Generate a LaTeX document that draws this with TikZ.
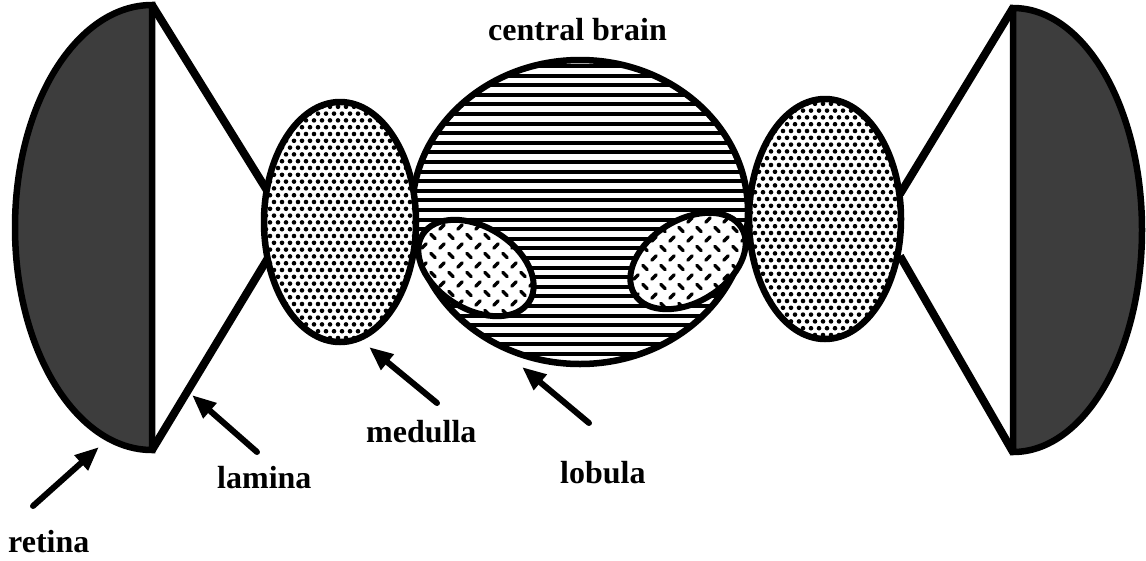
\documentclass[tikz,border=0pt]{standalone}
\usepackage{fontspec}
\setmainfont{Liberation Serif}
\usetikzlibrary{arrows.meta}
\begin{document}
\begin{tikzpicture}[x=1pt,y=-1pt,
  outl/.style={line width=6.5pt},
  lamline/.style={line width=8pt,line join=miter},
  pointer/.style={line width=6pt,line cap=round,-{Triangle[length=24pt,width=19pt]}},
  lbl/.style={font=\fontsize{32}{36}\selectfont\bfseries,inner sep=0pt,anchor=base west}]
\useasboundingbox[fill=white] (0,0) rectangle (1146,560);

% central brain: horizontal hatching
\begin{scope}
  \clip (580,212) ellipse[x radius=168pt,y radius=152pt];
  \foreach \k in {0,...,32} \draw[line width=4pt] (400,{66+\k*9.6}) -- (760,{66+\k*9.6});
\end{scope}
\draw[outl] (580,212) ellipse[x radius=168pt,y radius=152pt];

% retinas
\draw[outl,fill=black!76] (152,5) arc[start angle=90,end angle=270,x radius=137pt,y radius=222.5pt] -- cycle;
\draw[outl,fill=black!76] (1013,8) arc[start angle=90,end angle=-90,x radius=129pt,y radius=222pt] -- cycle;

% laminas
\draw[lamline] (268,192) -- (152,5);
\draw[lamline] (152,450) -- (268,258);
\draw[lamline] (900,194) -- (1013,8);
\draw[lamline] (1013,452) -- (900,256);

% medullas
\foreach \cx/\cy in {340/222,825/219}{
  \begin{scope}
    \clip (\cx,\cy) ellipse[x radius=76pt,y radius=120pt];
    \fill[white] ({\cx-80},{\cy-125}) rectangle ({\cx+80},{\cy+125});
    \foreach \r in {0,...,36}{
      \foreach \c in {0,...,20}{
        \fill ({\cx-78+mod(\r,2)*4+\c*8},{\cy-122+\r*6.8}) circle[radius=2.3pt];
      }
    }
  \end{scope}
  \draw[outl] (\cx,\cy) ellipse[x radius=76pt,y radius=120pt];
}

% lobulas
\foreach \cx/\cy/\rot in {476/268/-32,688/261/32}{
  \begin{scope}
    \clip[rotate around={\rot:(\cx,\cy)}] (\cx,\cy) ellipse[x radius=63pt,y radius=41pt];
    \fill[white] ({\cx-70},{\cy-60}) rectangle ({\cx+70},{\cy+60});
    \foreach \j in {0,...,13}{
      \pgfmathsetmacro\ang{mod(\j,2)==0 ? 45 : -45}
      \pgfmathsetmacro\off{mod(\j,2)*9}
      \foreach \i in {0,...,8}{
        \draw[line width=3.4pt,line cap=round] ({\cx-70+\off+\i*18},{\cy-60+\j*9.5}) ++(\ang:3pt) -- ++(\ang+180:6pt);
      }
    }
  \end{scope}
  \draw[line width=6pt,rotate around={\rot:(\cx,\cy)}] (\cx,\cy) ellipse[x radius=63pt,y radius=41pt];
}

% labels
\node[lbl] (cb)  at (488,40)  {central brain};
\node[lbl] (lam) at (217,488) {lamina};
\node[lbl] (med) at (366,442) {medulla};
\node[lbl] (lob) at (560,483) {lobula};
\node[lbl] (ret) at (8,552)   {retina};

% pointers
\coordinate (retT) at (33,506);  \coordinate (retH) at (99,447);
\coordinate (lamT) at (257,452); \coordinate (lamH) at (192,395);
\coordinate (medT) at (437,403); \coordinate (medH) at (369,347);
\coordinate (lobT) at (589,423); \coordinate (lobH) at (522,367);
\draw[pointer] (retT) -- (retH);
\draw[pointer] (lamT) -- (lamH);
\draw[pointer] (medT) -- (medH);
\draw[pointer] (lobT) -- (lobH);
\end{tikzpicture}
\end{document}
